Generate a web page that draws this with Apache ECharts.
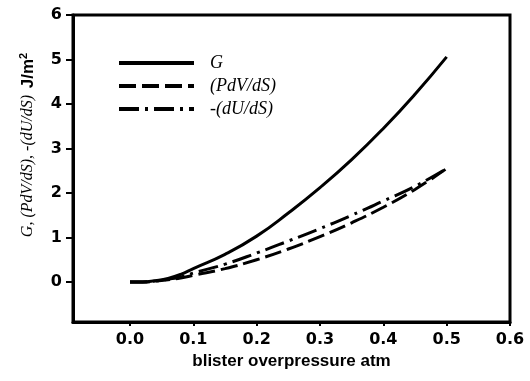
<!DOCTYPE html>
<html>
<head>
<meta charset="utf-8">
<script src="https://cdn.jsdelivr.net/npm/echarts@6/dist/echarts.min.js"></script>
<style>
  html, body { margin: 0; padding: 0; background: #fff; }
  #chart { width: 530px; height: 381px; }
</style>
</head>
<body>
<div id="chart"></div>
<script>
// blister overpressure (atm)
const pressure = [0, 0.02, 0.04, 0.06, 0.08, 0.1, 0.15, 0.2, 0.25, 0.3, 0.35, 0.4, 0.45, 0.5];
// G
const gValues = [0, 0.0, 0.03, 0.08, 0.17, 0.3, 0.62, 1.03, 1.55, 2.12, 2.75, 3.45, 4.22, 5.06];
// (PdV/dS)
const pdvValues = [0, 0.0, 0.02, 0.05, 0.09, 0.15, 0.3, 0.5, 0.74, 1.02, 1.33, 1.68, 2.08, 2.55];
// -(dU/dS)
const duValues = [0, 0.0, 0.02, 0.06, 0.11, 0.2, 0.4, 0.65, 0.92, 1.2, 1.5, 1.82, 2.15, 2.55];

const xTicks = [0, 0.1, 0.2, 0.3, 0.4, 0.5, 0.6];
const yTicks = [0, 1, 2, 3, 4, 5, 6];

const pairs = vals => pressure.map((p, i) => [p, vals[i]]);

const chart = echarts.init(document.getElementById('chart'));

const lineSeries = (name, vals, type) => ({
  name: name,
  type: 'line',
  data: pairs(vals),
  smooth: true,
  symbol: 'none',
  color: '#000',
  itemStyle: { color: '#000' },
  lineStyle: { color: '#000', width: 3, type: type }
});

chart.setOption({
  backgroundColor: '#fff',
  animation: false,
  grid: {
    left: 73, right: 20, top: 15, bottom: 59,
    show: true, borderColor: '#000', borderWidth: 3
  },
  legend: {
    orient: 'vertical',
    left: 112, top: 49,
    itemWidth: 75, itemHeight: 14, itemGap: 5,
    itemStyle: { opacity: 0 },
    lineStyle: { width: 4 },
    textStyle: {
      fontFamily: 'Liberation Serif', fontStyle: 'italic', fontSize: 18,
      color: '#000', padding: [0, 0, 0, 11]
    },
    data: ['G', '(PdV/dS)', '-(dU/dS)']
  },
  xAxis: {
    type: 'value',
    min: -0.09, max: 0.6,
    name: 'blister overpressure atm',
    nameLocation: 'middle',
    nameGap: 30,
    nameTextStyle: { fontFamily: 'Liberation Sans', fontWeight: 'bold', fontSize: 17, color: '#000' },
    axisLine: { onZero: false, lineStyle: { color: '#000', width: 3 } },
    axisTick: { show: true, length: 4, customValues: xTicks, lineStyle: { color: '#000', width: 2 } },
    axisLabel: {
      customValues: xTicks, margin: 10,
      fontFamily: 'DejaVu Sans', fontWeight: 'bold', fontSize: 16, color: '#000',
      formatter: v => v.toFixed(1)
    },
    splitLine: { show: false }
  },
  yAxis: {
    type: 'value',
    min: -0.9, max: 6,
    axisLine: { show: true, onZero: false, lineStyle: { color: '#000', width: 3 } },
    axisTick: { show: true, length: 7, customValues: yTicks, lineStyle: { color: '#000', width: 2 } },
    axisLabel: {
      customValues: yTicks, margin: 11,
      fontFamily: 'DejaVu Sans', fontWeight: 'bold', fontSize: 16, color: '#000'
    },
    splitLine: { show: false }
  },
  graphic: [{
    type: 'text',
    x: 28, y: 145,
    rotation: Math.PI / 2,
    style: {
      text: '{i|G, (PdV/dS), -(dU/dS)}  {b|J/m}{s|2}',
      align: 'center', verticalAlign: 'middle',
      rich: {
        i: { fontFamily: 'Liberation Serif', fontStyle: 'italic', fontSize: 16, fill: '#000', lineHeight: 20 },
        b: { fontFamily: 'Liberation Sans', fontWeight: 'bold', fontSize: 17, fill: '#000', lineHeight: 20 },
        s: { fontFamily: 'Liberation Sans', fontWeight: 'bold', fontSize: 11, fill: '#000', verticalAlign: 'top', lineHeight: 20 }
      }
    }
  }],
  series: [
    lineSeries('G', gValues, 'solid'),
    lineSeries('(PdV/dS)', pdvValues, [17, 6]),
    lineSeries('-(dU/dS)', duValues, [20, 6, 3, 6])
  ]
});
</script>
</body>
</html>
